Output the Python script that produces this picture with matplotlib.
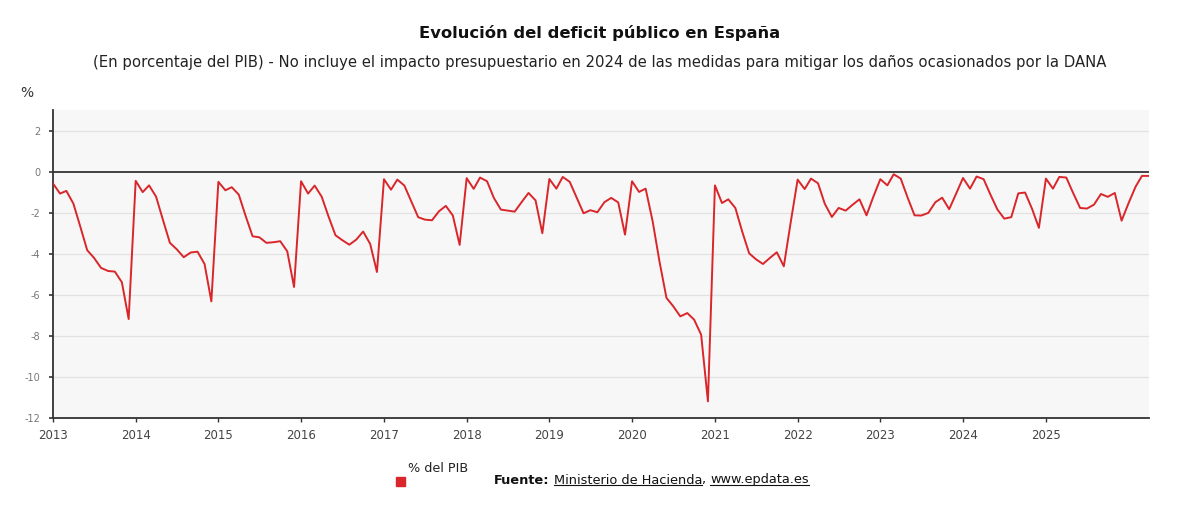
import numpy as np
import pandas as pd
import matplotlib
matplotlib.use('Agg')
import matplotlib.pyplot as plt
import matplotlib.dates as mdates

plt.rcParams['font.family'] = ['DejaVu Sans']

# deficit publico mensual acumulado (% del PIB), ene 2013 - abr 2026
months = pd.date_range('2013-01-01', periods=160, freq='MS')
deficit = [
    -0.58, -1.07, -0.94, -1.56, -2.66, -3.83, -4.20, -4.69, -4.84, -4.87, -5.39, -7.18,   # 2013
    -0.45, -1.00, -0.67, -1.22, -2.34, -3.47, -3.78, -4.17, -3.94, -3.90, -4.50, -6.32,   # 2014
    -0.50, -0.91, -0.76, -1.12, -2.15, -3.15, -3.20, -3.47, -3.44, -3.39, -3.88, -5.62,   # 2015
    -0.47, -1.07, -0.68, -1.22, -2.18, -3.10, -3.34, -3.56, -3.31, -2.92, -3.52, -4.89,   # 2016
    -0.37, -0.88, -0.39, -0.68, -1.44, -2.22, -2.34, -2.37, -1.93, -1.67, -2.14, -3.57,   # 2017
    -0.32, -0.84, -0.29, -0.47, -1.28, -1.85, -1.90, -1.95, -1.48, -1.04, -1.40, -3.00,   # 2018
    -0.36, -0.83, -0.26, -0.50, -1.25, -2.03, -1.88, -1.98, -1.49, -1.28, -1.50, -3.07,   # 2019
    -0.47, -0.99, -0.83, -2.42, -4.37, -6.15, -6.56, -7.05, -6.89, -7.21, -7.94, -11.19,  # 2020
    -0.67, -1.53, -1.35, -1.77, -2.91, -3.98, -4.27, -4.50, -4.20, -3.93, -4.61, -2.50,   # 2021
    -0.39, -0.85, -0.34, -0.57, -1.57, -2.21, -1.77, -1.90, -1.61, -1.35, -2.13, -1.23,   # 2022
    -0.37, -0.67, -0.13, -0.34, -1.25, -2.13, -2.14, -2.01, -1.49, -1.27, -1.83, -1.09,   # 2023
    -0.31, -0.83, -0.24, -0.37, -1.12, -1.85, -2.29, -2.22, -1.06, -1.02, -1.82, -2.74,   # 2024
    -0.34, -0.83, -0.26, -0.29, -1.04, -1.77, -1.80, -1.61, -1.09, -1.23, -1.04, -2.39,   # 2025
    -1.53, -0.73, -0.21, -0.21,                                                           # 2026
]
years = list(range(2013, 2026))
yticks = [-12, -10, -8, -6, -4, -2, 0, 2]

title = 'Evolución del deficit público en España'
subtitle = ('(En porcentaje del PIB) - No incluye el impacto presupuestario en 2024 '
            'de las medidas para mitigar los daños ocasionados por la DANA')

red = '#d9262b'

fig = plt.figure(figsize=(12, 5.15), dpi=100)
ax = fig.add_axes([53/1200, 1-418/515, (1149-53)/1200, (418-110)/515])
ax.set_facecolor('#f7f7f7')

ax.plot(months, deficit, color=red, lw=1.4, zorder=3)

ax.set_ylim(-12, 3)
ax.set_yticks(yticks)
ax.set_yticklabels([str(v) for v in yticks])
ax.set_xlim(months[0], months[-1])
ax.set_xticks([pd.Timestamp(f'{y}-01-01') for y in years])
ax.xaxis.set_major_formatter(mdates.DateFormatter('%Y'))

for v in yticks:
    if v == 0:
        ax.axhline(0, color='#333333', lw=1.3, zorder=2)
    else:
        ax.axhline(v, color='#e2e2e2', lw=0.9, zorder=1)

for s in ['top', 'right']:
    ax.spines[s].set_visible(False)
for s in ['left', 'bottom']:
    ax.spines[s].set_color('#333333')
    ax.spines[s].set_linewidth(1.3)

ax.tick_params(axis='y', length=3, width=1.2, color='#333333', labelsize=7,
               labelcolor='#777777', pad=6)
ax.tick_params(axis='x', length=3, width=1.0, color='#333333', labelsize=8.5,
               labelcolor='#444444', pad=5)

fig.text(0.5, 1-33/515, title, ha='center', va='center', fontsize=11.8,
         fontweight='bold', color='#111111')
fig.text(0.5, 1-63/515, subtitle, ha='center', va='center', fontsize=10.7,
         color='#222222')
fig.text(20/1200, 1-93/515, '%', ha='left', va='center', fontsize=10,
         color='#333333')

# leyenda
fig.patches.append(plt.Rectangle((396/1200, 1-486/515), 9/1200, 9/515,
                                 transform=fig.transFigure, color=red))
fig.text(408/1200, 1-468/515, '% del PIB', ha='left', va='center', fontsize=9.2,
         color='#222222')

# fuente, con subrayado
renderer = fig.canvas.get_renderer()
x = 494/1200
ysrc = 1-480/515
pieces = [('Fuente:', 'bold', False), (' ', 'normal', False),
          ('Ministerio de Hacienda', 'normal', True), (', ', 'normal', False),
          ('www.epdata.es', 'normal', True)]
for txt, weight, underline in pieces:
    t = fig.text(x, ysrc, txt, ha='left', va='center', fontsize=9.3,
                 fontweight=weight, color='#111111')
    bb = t.get_window_extent(renderer=renderer).transformed(fig.transFigure.inverted())
    if underline:
        yl = bb.y0 + 1.5/515
        fig.add_artist(plt.Line2D([bb.x0, bb.x1], [yl, yl],
                                  transform=fig.transFigure, color='#111111', lw=0.8))
    x = bb.x1

fig.savefig('out.png', dpi=100, facecolor='white')
